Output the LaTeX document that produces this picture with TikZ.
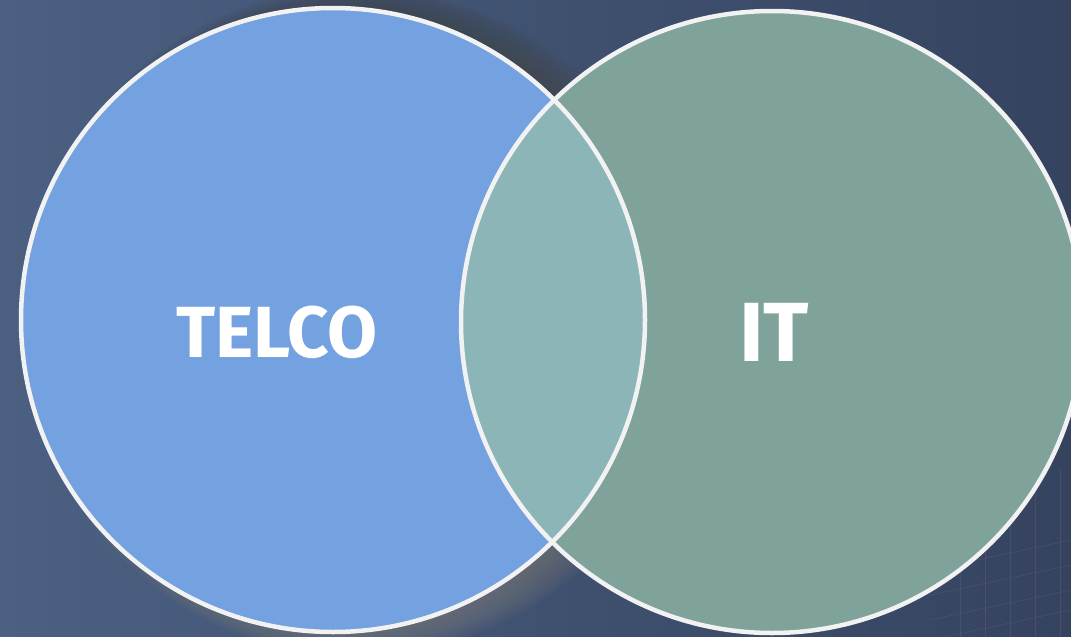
\documentclass[tikz,border=0pt]{standalone}
\usepackage{fontspec}
\setmainfont{Fira Sans}
\usetikzlibrary{calc}
\definecolor{bgL}{HTML}{4B6082}
\definecolor{bgR}{HTML}{35435F}
\definecolor{telco}{HTML}{74A1DF}
\definecolor{itc}{HTML}{7FA39B}
\definecolor{mid}{HTML}{8CB5B8}
\definecolor{rim}{HTML}{F2F2F2}
\definecolor{shade}{HTML}{1E2840}
\tikzset{
  ring/.style={draw=rim, line width=4.5pt},
  lbl/.style={text=white, font=\bfseries, inner sep=0pt, anchor=base}
}
\begin{document}
\begin{tikzpicture}[x=1pt,y=-1pt]
\useasboundingbox (0,0) rectangle (1071,637);
\shade[left color=bgL, right color=bgR] (0,0) rectangle (1071,637);
% faint grid in lower right corner
\begin{scope}
\clip (0,0) rectangle (1071,637);
\foreach \x in {960,985,1010,1035,1060}{
  \draw[violet!40!white, opacity=0.12, line width=0.8pt] (\x,470) -- (\x,637);
}
\foreach \y in {560,585,610,630}{
  \draw[violet!40!white, opacity=0.10, line width=0.8pt] (930,\y+10) -- (1071,\y-20);
}
\end{scope}
% shadow of left circle
\foreach \i in {1,...,10}{
  \fill[shade, opacity=0.05] (345+\i*1.2,322) circle ({304+\i*3});
}
\coordinate (cL) at (333,320);
\coordinate (cR) at (772,322);
\fill[telco] (cL) circle (312);
\fill[itc] (cR) circle (311);
\begin{scope}
  \clip (cL) circle (312);
  \fill[mid] (cR) circle (311);
\end{scope}
\draw[ring] (cL) circle (312);
\draw[ring] (cR) circle (311);
\node[lbl, font=\fontsize{72.5}{72.5}\selectfont\bfseries] (telco) at (277,357) {TELCO};
\node[lbl, font=\fontsize{84}{84}\selectfont\bfseries] (it) at (774,361) {IT};
\end{tikzpicture}
\end{document}
